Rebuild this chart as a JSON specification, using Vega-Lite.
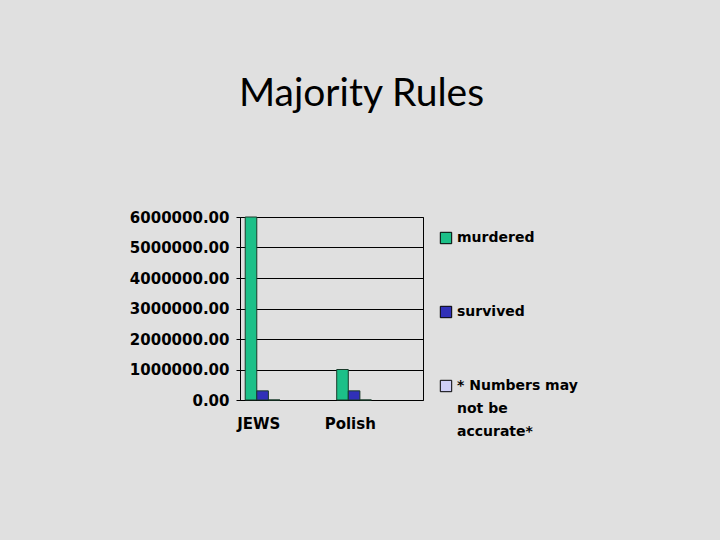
{
  "$schema": "https://vega.github.io/schema/vega-lite/v6.json",
  "autosize": {"type": "none"},
  "width": 183,
  "height": 183,
  "padding": {"left": 240, "top": 217, "right": 297, "bottom": 140},
  "background": "#e0e0e0",
  "title": {
    "text": "Majority Rules",
    "font": "Lato",
    "fontSize": 39,
    "fontWeight": "normal",
    "color": "#000000",
    "anchor": "middle",
    "dx": 30,
    "offset": 96
  },
  "data": {
    "values": [
      {"group": "JEWS", "series": "murdered", "value": 6000000},
      {"group": "JEWS", "series": "survived", "value": 300000},
      {"group": "JEWS", "series": "* Numbers may not be accurate*", "value": 0},
      {"group": "Polish", "series": "murdered", "value": 1000000},
      {"group": "Polish", "series": "survived", "value": 300000},
      {"group": "Polish", "series": "* Numbers may not be accurate*", "value": 0}
    ]
  },
  "config": {
    "view": {"stroke": "#000000", "strokeWidth": 1},
    "axis": {
      "labelFont": "DejaVu Sans",
      "labelFontWeight": "bold",
      "labelFontSize": 15,
      "labelColor": "#000000",
      "domainColor": "#000000",
      "tickColor": "#000000"
    }
  },
  "mark": {"type": "bar", "stroke": "#1a3a2a", "strokeWidth": 1},
  "encoding": {
    "x": {
      "field": "group",
      "type": "nominal",
      "sort": ["JEWS", "Polish"],
      "scale": {"paddingInner": 0, "paddingOuter": 0},
      "axis": {"title": null, "labelAngle": 0, "labelPadding": 16, "ticks": false, "domain": false, "labelOffset": -27}
    },
    "xOffset": {
      "field": "series",
      "type": "nominal",
      "scale": {
        "domain": ["murdered", "survived", "* Numbers may not be accurate*", "_a", "_b", "_c", "_d"],
        "paddingInner": 0,
        "paddingOuter": 0.45
      }
    },
    "y": {
      "field": "value",
      "type": "quantitative",
      "scale": {"domain": [0, 6000000], "nice": false},
      "axis": {
        "title": null,
        "format": ".2f",
        "values": [0, 1000000, 2000000, 3000000, 4000000, 5000000, 6000000],
        "labelOverlap": false,
        "gridColor": "#000000",
        "gridWidth": 1,
        "tickSize": 4,
        "labelPadding": 7
      }
    },
    "color": {
      "field": "series",
      "type": "nominal",
      "sort": ["murdered", "survived", "* Numbers may not be accurate*"],
      "scale": {
        "domain": ["murdered", "survived", "* Numbers may not be accurate*"],
        "range": ["#1cc088", "#3030b8", "#d0d0f8"]
      },
      "legend": {
        "title": null,
        "orient": "none",
        "legendX": 199,
        "legendY": 14,
        "symbolType": "square",
        "symbolSize": 130,
        "symbolStrokeColor": "#000000",
        "symbolStrokeWidth": 1,
        "labelFont": "DejaVu Sans",
        "labelFontWeight": "bold",
        "labelFontSize": 14,
        "labelColor": "#000000",
        "labelLimit": 200,
        "labelOffset": 4,
        "labelBaseline": "middle",
        "rowPadding": 58,
        "labelExpr": "datum.label == '* Numbers may not be accurate*' ? ['* Numbers may', 'not be', 'accurate*'] : datum.label",
        "encode": {"labels": {"update": {"lineHeight": {"value": 23}}}}
      }
    }
  }
}
